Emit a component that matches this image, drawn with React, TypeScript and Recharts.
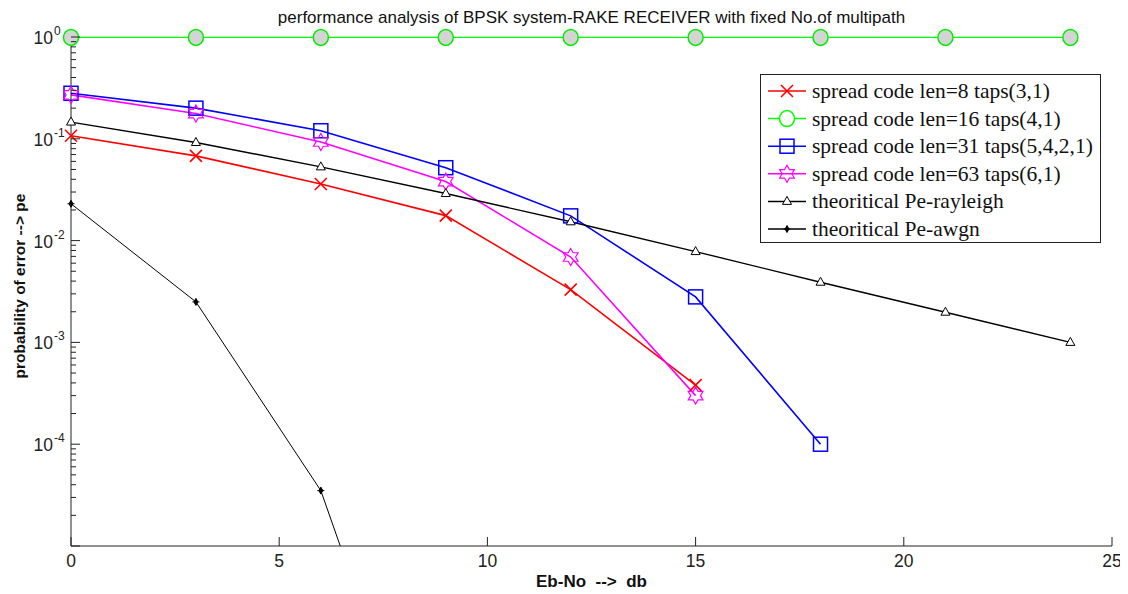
import React from "react";
import { LineChart, Line, XAxis, YAxis, Legend } from "recharts";

// Eb/No points (dB) and error probabilities
const snr = [0, 3, 6, 9, 12, 15, 18, 21, 24];
const len8 = [0.107, 0.068, 0.036, 0.0176, 0.0033, 0.00038];
const len16 = [0.99, 0.99, 0.99, 0.99, 0.99, 0.99, 0.99, 0.99, 0.99];
const len31 = [0.28, 0.2, 0.12, 0.052, 0.0175, 0.0028, 0.0001];
const len63 = [0.27, 0.177, 0.093, 0.038, 0.0069, 0.0003];
const rayleigh = [0.146, 0.092, 0.053, 0.029, 0.0153, 0.0078, 0.0039, 0.00198, 0.001];
const awgn = [0.023, 0.0025, 0.000035, 0.000000011];

const xTicks = [0, 5, 10, 15, 20, 25];
const decades = [1e-5, 1e-4, 1e-3, 1e-2, 1e-1, 1];
const minorSteps = [2, 3, 4, 5, 6, 7, 8, 9];

const yTicks = [
  ...decades,
  ...decades.slice(0, -1).flatMap((d) => minorSteps.map((m) => m * d)),
].sort((a, b) => a - b);

const rows = snr.map((s, i) => ({
  snr: s,
  len8: len8[i],
  len16: len16[i],
  len31: len31[i],
  len63: len63[i],
  rayleigh: rayleigh[i],
  awgn: awgn[i],
}));

const legendOrder = ["len8", "len16", "len31", "len63", "rayleigh", "awgn"];

const AX = "#222";
const SANS = "'Liberation Sans', Arial, sans-serif";
const SERIF = "'Liberation Serif', 'Times New Roman', serif";
const LEFT_W = 63;

const isMajor = (v: number) => decades.some((d) => Math.abs(v / d - 1) < 1e-6);

const LeftTick = (props: any) => {
  const { y, payload } = props;
  const x = LEFT_W;
  const v = payload.value;
  const major = isMajor(v);
  const exp = Math.round(Math.log10(v));
  return (
    <g>
      <line x1={x} x2={x + (major ? 9 : 5)} y1={y} y2={y} stroke={AX} />
      {major && exp > -5 && (
        <g fill={AX} fontFamily={SANS}>
          <text x={x - 18} y={y + 7} textAnchor="end" fontSize={17.5}>
            10
          </text>
          <text x={x - 17} y={y - 2} fontSize={12}>
            {exp}
          </text>
        </g>
      )}
    </g>
  );
};

const RightTick = (props: any) => {
  const { x, y, payload } = props;
  const major = isMajor(payload.value);
  return <line x1={x} x2={x - (major ? 9 : 5)} y1={y} y2={y} stroke={AX} />;
};

const BottomTick = (props: any) => {
  const { x, y, payload } = props;
  return (
    <g>
      <line x1={x} x2={x} y1={y} y2={y - 9} stroke={AX} />
      <text x={x} y={y + 21} textAnchor="middle" fontSize={17.5} fontFamily={SANS} fill={AX}>
        {payload.value}
      </text>
    </g>
  );
};

const TopTick = (props: any) => {
  const { x, y } = props;
  return <line x1={x} x2={x} y1={y} y2={y + 9} stroke={AX} />;
};

type Kind = "cross" | "circle" | "square" | "hexagram" | "triangle" | "point";

const hexPoints = (x: number, y: number, r: number) => {
  const pts: string[] = [];
  for (let k = 0; k < 12; k++) {
    const a = (-90 + k * 30) * (Math.PI / 180);
    const rr = k % 2 === 0 ? r : r / Math.sqrt(3);
    pts.push(`${x + rr * Math.cos(a)},${y + rr * Math.sin(a)}`);
  }
  return pts.join(" ");
};

const Marker = ({ kind, x, y, color, inLegend }: { kind: Kind; x: number; y: number; color: string; inLegend?: boolean }) => {
  switch (kind) {
    case "cross":
      return (
        <g stroke={color} strokeWidth={1.6}>
          <line x1={x - 6} y1={y - 6} x2={x + 6} y2={y + 6} />
          <line x1={x - 6} y1={y + 6} x2={x + 6} y2={y - 6} />
        </g>
      );
    case "circle":
      return <ellipse cx={x} cy={y} rx={7.5} ry={8} stroke={color} strokeWidth={1.5} fill={inLegend ? "#fff" : "#d4d4d4"} />;
    case "square":
      return <rect x={x - 7} y={y - 7} width={14} height={14} stroke={color} strokeWidth={1.5} fill="none" />;
    case "hexagram":
      return <polygon points={hexPoints(x, y, 8.5)} stroke={color} strokeWidth={1.2} fill="none" />;
    case "triangle":
      return <polygon points={`${x},${y - 5} ${x - 4.5},${y + 3} ${x + 4.5},${y + 3}`} stroke={color} strokeWidth={1} fill="#fff" />;
    default:
      return (
        <g fill={color} stroke={color}>
          <polygon points={`${x},${y - 3.5} ${x + 2},${y} ${x},${y + 3.5} ${x - 2},${y}`} />
          <line x1={x - 3.5} x2={x + 3.5} y1={y} y2={y} />
        </g>
      );
  }
};

const mkDot = (kind: Kind, color: string) => (p: any) => {
  const { cx, cy, key, value } = p;
  if (cx == null || cy == null || value == null) return <g key={key} />;
  return (
    <g key={key}>
      <Marker kind={kind} x={cx} y={cy} color={color} />
    </g>
  );
};

const markerOf: Record<string, Kind> = {
  len8: "cross",
  len16: "circle",
  len31: "square",
  len63: "hexagram",
  rayleigh: "triangle",
  awgn: "point",
};

const LegendBox = ({ payload }: any) => {
  const items = [...(payload || [])].sort(
    (a: any, b: any) => legendOrder.indexOf(a.dataKey) - legendOrder.indexOf(b.dataKey)
  );
  return (
    <div style={{ width: 341, height: 169, border: `1px solid ${AX}`, background: "#fff", boxSizing: "border-box" }}>
      <svg width={339} height={167} style={{ display: "block" }}>
        {items.map((e: any, i: number) => {
          const cy = 16 + i * 27.6;
          return (
            <g key={e.dataKey}>
              <line x1={7} x2={45} y1={cy} y2={cy} stroke={e.color} strokeWidth={1.5} />
              <Marker kind={markerOf[e.dataKey]} x={26} y={cy} color={e.color} inLegend />
              <text x={51} y={cy + 7} fontFamily={SERIF} fontSize={21.5} fill="#111">
                {e.value}
              </text>
            </g>
          );
        })}
      </svg>
    </div>
  );
};

export default function App() {
  return (
    <div style={{ position: "relative", width: 1120, height: 580 }}>
      <div style={{ position: "absolute", left: LEFT_W, top: 0, width: 1041, lineHeight: "20px", textAlign: "center", fontFamily: SANS, fontSize: 17, color: "#111" }}>
        performance analysis of BPSK system-RAKE RECEIVER with fixed No.of multipath
      </div>
      <LineChart width={1120} height={580} data={rows} margin={{ top: 29, right: 16, bottom: 12, left: 0 }}>
        <XAxis xAxisId="bottom" dataKey="snr" type="number" domain={[0, 25]} ticks={xTicks} interval={0} height={30} tickSize={0} tickMargin={0} tickLine={false} axisLine={{ stroke: AX }} tick={<BottomTick />} />
        <XAxis xAxisId="top" orientation="top" dataKey="snr" type="number" domain={[0, 25]} ticks={xTicks} interval={0} height={0} tickSize={0} tickMargin={0} tickLine={false} axisLine={{ stroke: AX }} tick={<TopTick />} />
        <YAxis yAxisId="left" type="number" scale="log" domain={[1e-5, 1]} ticks={yTicks} interval={0} width={LEFT_W} tickSize={0} tickMargin={0} tickLine={false} axisLine={{ stroke: AX }} tick={<LeftTick />} />
        <YAxis yAxisId="right" orientation="right" type="number" scale="log" domain={[1e-5, 1]} ticks={yTicks} interval={0} width={0} tickSize={0} tickMargin={0} tickLine={false} axisLine={{ stroke: AX }} tick={<RightTick />} />
        <YAxis yAxisId="clip" hide width={0} type="number" scale="log" domain={[1e-5, 1]} allowDataOverflow />
        <Legend layout="vertical" align="center" verticalAlign="middle" wrapperStyle={{ left: 752, top: 66, width: 341, height: 169 }} content={<LegendBox />} />
        <Line xAxisId="bottom" yAxisId="left" dataKey="len8" name="spread code len=8 taps(3,1)" stroke="#ff0000" strokeWidth={1.6} dot={mkDot("cross", "#ff0000")} activeDot={false} isAnimationActive={false} />
        <Line xAxisId="bottom" yAxisId="right" dataKey="len16" name="spread code len=16 taps(4,1)" stroke="#00ff00" strokeWidth={1.2} dot={mkDot("circle", "#00ee00")} activeDot={false} isAnimationActive={false} />
        <Line xAxisId="bottom" yAxisId="left" dataKey="len31" name="spread code len=31 taps(5,4,2,1)" stroke="#0000ff" strokeWidth={1.6} dot={mkDot("square", "#0000ff")} activeDot={false} isAnimationActive={false} />
        <Line xAxisId="bottom" yAxisId="left" dataKey="len63" name="spread code len=63 taps(6,1)" stroke="#ff00ff" strokeWidth={1.6} dot={mkDot("hexagram", "#ff00ff")} activeDot={false} isAnimationActive={false} />
        <Line xAxisId="top" yAxisId="left" dataKey="rayleigh" name="theoritical Pe-rayleigh" stroke="#000" strokeWidth={1.4} dot={mkDot("triangle", "#000")} activeDot={false} isAnimationActive={false} />
        <Line xAxisId="bottom" yAxisId="clip" dataKey="awgn" name="theoritical Pe-awgn" stroke="#000" strokeWidth={1} dot={mkDot("point", "#000")} activeDot={false} isAnimationActive={false} />
      </LineChart>
      <div style={{ position: "absolute", left: LEFT_W, top: 564, width: 1041, lineHeight: "20px", textAlign: "center", fontFamily: SANS, fontSize: 17, fontWeight: "bold", color: "#111", whiteSpace: "pre" }}>
        {"Eb-No  -->  db"}
      </div>
      <div style={{ position: "absolute", left: -138, top: 269, width: 300, lineHeight: "18px", textAlign: "center", fontFamily: SANS, fontSize: 15.5, fontWeight: "bold", color: "#111", transform: "rotate(-90deg)" }}>
        probability of error --&gt; pe
      </div>
    </div>
  );
}
